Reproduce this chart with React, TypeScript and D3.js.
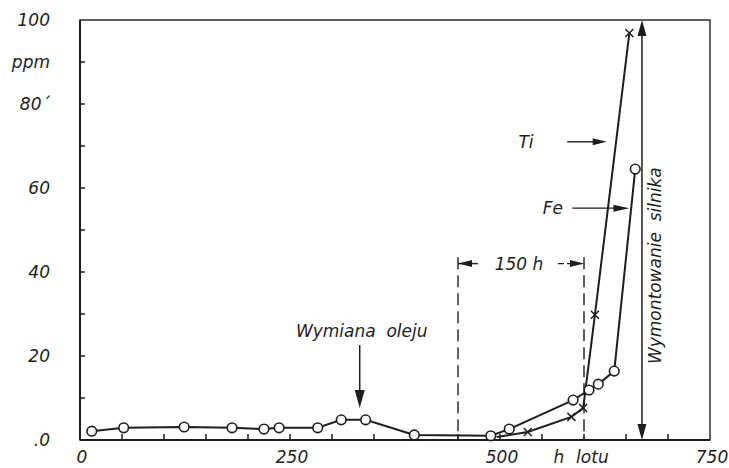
import * as d3 from 'd3';

// Fe readings (circles), hours of flight vs ppm
const feHours = [14, 52, 124, 181, 219, 237, 283, 311, 340, 398, 489, 511, 587, 606, 617, 636, 661];
const feValues = [2.1, 2.9, 3.1, 2.9, 2.6, 2.9, 2.9, 4.8, 4.8, 1.2, 1.0, 2.6, 9.5, 11.9, 13.3, 16.4, 64.5];
// Ti readings (crosses)
const tiHours = [496, 533, 585, 599, 613, 654];
const tiValues = [0.7, 1.9, 5.5, 7.6, 29.8, 96.9];

const xTickLabels = [
  { v: 0, t: '0' },
  { v: 250, t: '250' },
  { v: 500, t: '500' },
  { v: 750, t: '750' },
];
const yTickLabels = [
  { v: 0, t: '.0' },
  { v: 20, t: '20' },
  { v: 40, t: '40' },
  { v: 60, t: '60' },
  { v: 80, t: '80´' },
  { v: 90, t: 'ppm' },
  { v: 100, t: '100' },
];

// annotation positions (data units)
const oilChange = { h: 333, from: 22.6, to: 7.6 };
const engineOut = 669;
const window150 = { start: 450, end: 600, y: 42, top: 43.5 };

const W = 729;
const H = 468;
const ink = '#1e1e1e';
const font = '"DejaVu Sans", sans-serif';

const x = d3.scaleLinear().domain([0, 750]).range([80, 710]);
const y = d3.scaleLinear().domain([0, 100]).range([440, 20]);

// filled arrow head with tip at (tx,ty) pointing in direction (dx,dy)
function head(tx: number, ty: number, dx: number, dy: number, len = 13, half = 4) {
  const px = -dy;
  const py = dx;
  const bx = tx - dx * len;
  const by = ty - dy * len;
  return `${tx},${ty} ${bx + px * half},${by + py * half} ${bx - px * half},${by - py * half}`;
}

export default function App() {
  const fePts = feHours.map((h, i) => [x(h), y(feValues[i])] as [number, number]);
  const tiPts = tiHours.map((h, i) => [x(h), y(tiValues[i])] as [number, number]);
  const path = d3.line();

  const txt = { fontFamily: font, fontStyle: 'italic', fontSize: 17, fill: ink, style: { whiteSpace: 'pre' } } as const;

  return (
    <svg
      width={W}
      height={H}
      style={{ position: 'fixed', left: 0, top: 0, background: '#fff' }}
    >
      {/* frame */}
      <rect x={x(0)} y={y(100)} width={x(750) - x(0)} height={y(0) - y(100)} fill="none" stroke={ink} strokeWidth={1.4} />
      <line x1={x(0)} x2={x(0)} y1={y(100)} y2={y(0)} stroke={ink} strokeWidth={2} />
      <line x1={x(0)} x2={x(750)} y1={y(0)} y2={y(0)} stroke={ink} strokeWidth={2} />

      {/* inward ticks */}
      {d3.range(10, 100, 10).map((v) => (
        <line key={'yt' + v} x1={x(0)} x2={x(0) + 5} y1={y(v)} y2={y(v)} stroke={ink} strokeWidth={1.5} />
      ))}
      {d3.range(50, 750, 50).map((v) => (
        <line key={'xt' + v} x1={x(v)} x2={x(v)} y1={y(0)} y2={y(0) - 6} stroke={ink} strokeWidth={1.5} />
      ))}

      {/* tick labels */}
      {yTickLabels.map((d) => (
        <text key={d.t} x={50} y={y(d.v) + 6} textAnchor="end" {...txt}>
          {d.t}
        </text>
      ))}
      {xTickLabels.map((d) => (
        <text key={d.t} x={x(d.v) + 2} y={y(0) + 23} textAnchor="middle" {...txt}>
          {d.t}
        </text>
      ))}
      <text x={x(570)} y={y(0) + 23} textAnchor="middle" {...txt}>
        h
      </text>
      <text x={x(610)} y={y(0) + 23} textAnchor="middle" {...txt}>
        lotu
      </text>

      {/* 150 h window */}
      {[window150.start, window150.end].map((h) => (
        <line key={'dw' + h} x1={x(h)} x2={x(h)} y1={y(window150.top)} y2={y(0)} stroke={ink} strokeWidth={1.4} strokeDasharray="12,6" />
      ))}
      <line x1={x(window150.start)} x2={x(window150.start) + 20} y1={y(window150.y)} y2={y(window150.y)} stroke={ink} strokeWidth={1.4} />
      <line x1={x(window150.end) - 26} x2={x(window150.end)} y1={y(window150.y)} y2={y(window150.y)} stroke={ink} strokeWidth={1.4} strokeDasharray="6,3" />
      <polygon points={head(x(window150.start), y(window150.y), -1, 0, 14, 3.5)} fill={ink} />
      <polygon points={head(x(window150.end), y(window150.y), 1, 0, 14, 3.5)} fill={ink} />
      <text x={(x(window150.start) + x(window150.end)) / 2 - 2} y={y(window150.y) + 6} textAnchor="middle" {...txt}>
        150 h
      </text>

      {/* oil change */}
      <text x={x(oilChange.h) + 2} y={y(oilChange.from) - 8} textAnchor="middle" {...txt}>
        {'Wymiana  oleju'}
      </text>
      <line x1={x(oilChange.h)} x2={x(oilChange.h)} y1={y(oilChange.from)} y2={y(oilChange.to) - 10} stroke={ink} strokeWidth={1.5} />
      <polygon points={head(x(oilChange.h), y(oilChange.to), 0, 1, 18, 5)} fill={ink} />

      {/* engine removal */}
      <line x1={x(engineOut)} x2={x(engineOut)} y1={y(100) + 10} y2={y(0) - 10} stroke={ink} strokeWidth={1.5} />
      <polygon points={head(x(engineOut), y(100), 0, -1, 16, 4.5)} fill={ink} />
      <polygon points={head(x(engineOut), y(0), 0, 1, 16, 4.5)} fill={ink} />
      <text
        transform={`translate(${x(engineOut) + 19},${y(41.5)}) rotate(-90)`}
        textAnchor="middle"
        {...txt}
      >
        {'Wymontowanie  silnika'}
      </text>

      {/* element labels with arrows */}
      <text x={x(522)} y={y(71) + 6} {...txt}>
        Ti
      </text>
      <line x1={x(580)} x2={x(615)} y1={y(71)} y2={y(71)} stroke={ink} strokeWidth={1.4} />
      <polygon points={head(x(627), y(71), 1, 0, 14, 3.5)} fill={ink} />
      <text x={x(551)} y={y(55.2) + 6} {...txt}>
        Fe
      </text>
      <line x1={x(586)} x2={x(640)} y1={y(55.2)} y2={y(55.2)} stroke={ink} strokeWidth={1.4} />
      <polygon points={head(x(654), y(55.2), 1, 0, 16, 3.5)} fill={ink} />

      {/* series lines */}
      <path d={path(fePts) ?? ''} fill="none" stroke={ink} strokeWidth={2} />
      <path d={path(tiPts) ?? ''} fill="none" stroke={ink} strokeWidth={2} />

      {/* markers */}
      {fePts.map(([cx, cy], i) => (
        <circle key={'fe' + i} cx={cx} cy={cy} r={4.8} fill="#fff" stroke={ink} strokeWidth={1.6} />
      ))}
      {tiPts.slice(1).map(([cx, cy], i) => (
        <g key={'ti' + i} stroke={ink} strokeWidth={1.5}>
          <line x1={cx - 4} x2={cx + 4} y1={cy - 4} y2={cy + 4} />
          <line x1={cx - 4} x2={cx + 4} y1={cy + 4} y2={cy - 4} />
        </g>
      ))}
    </svg>
  );
}
